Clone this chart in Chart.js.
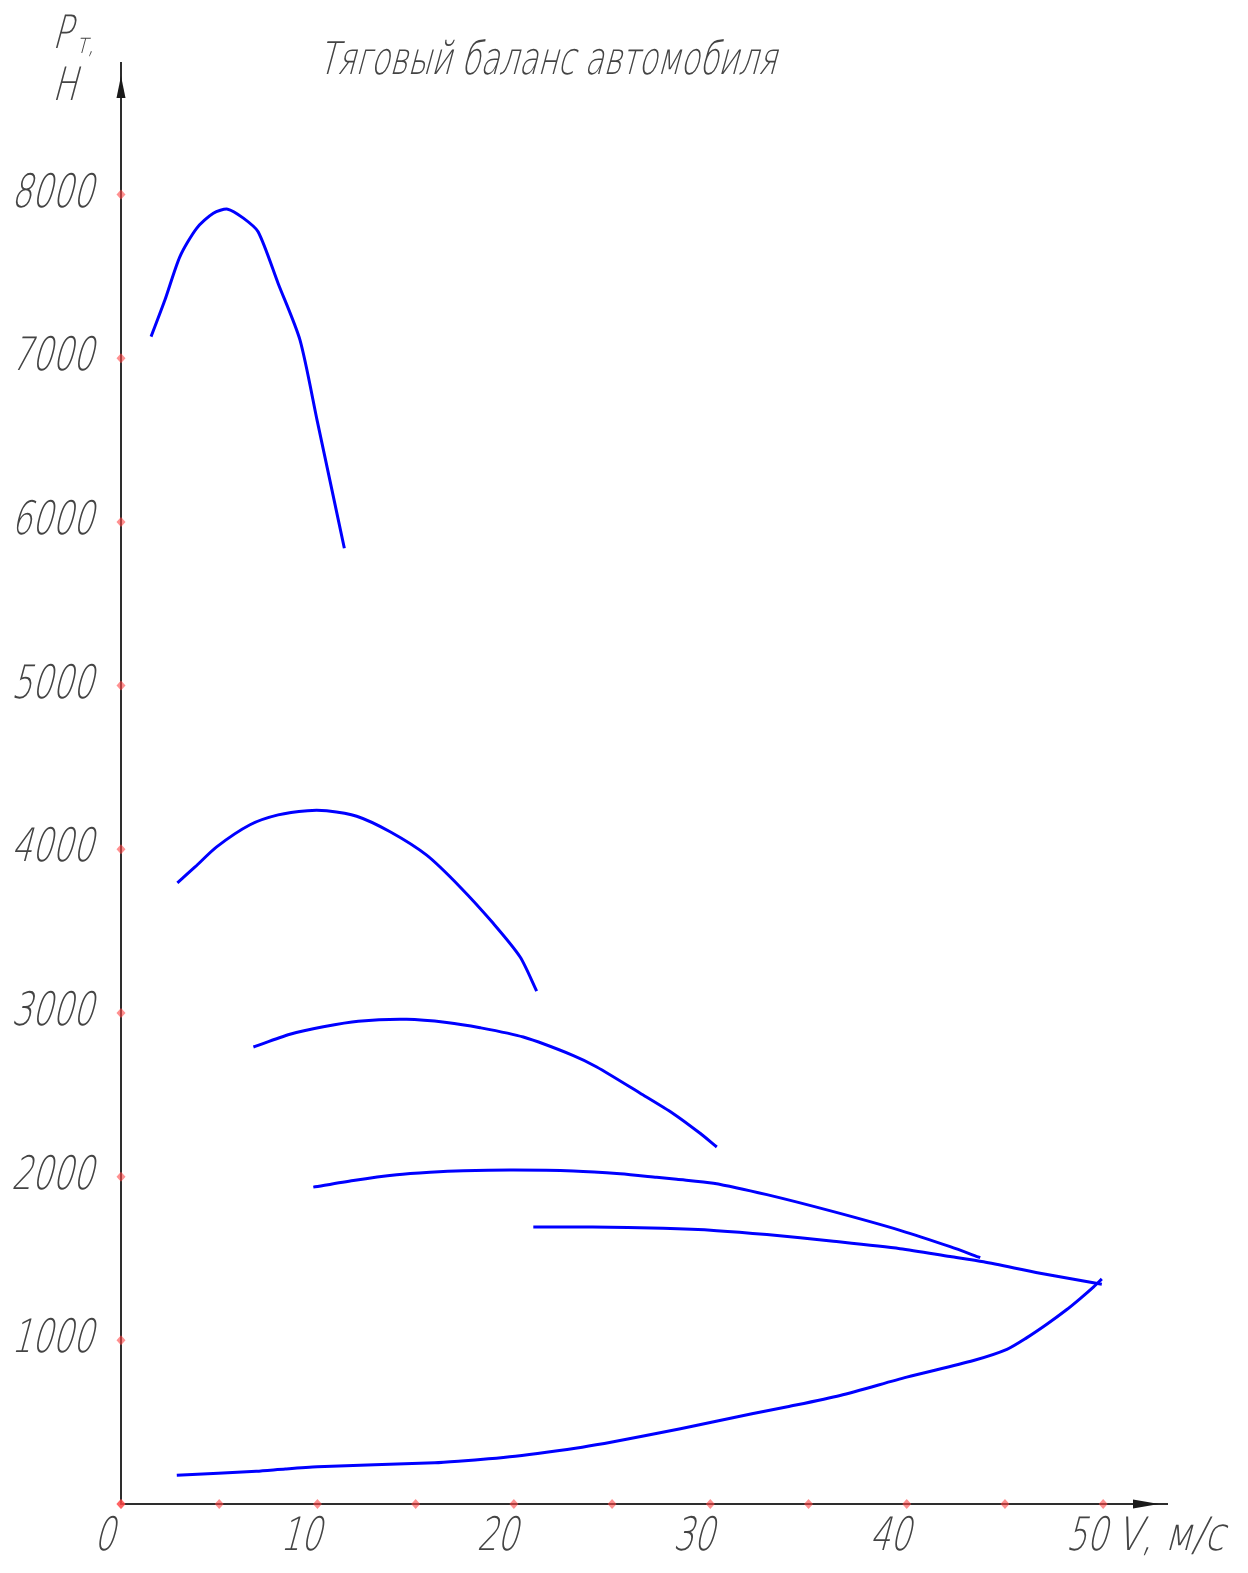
<!DOCTYPE html>
<html>
<head>
<meta charset="utf-8">
<script src="https://cdn.jsdelivr.net/npm/chart.js@4/dist/chart.umd.min.js"></script>
<style>
  html, body { margin: 0; padding: 0; background: #ffffff; }
  #wrap { position: relative; width: 1248px; height: 1573px; }
</style>
</head>
<body>
<div id="wrap"><canvas id="c" width="1248" height="1573"></canvas></div>
<script>
// Texts
const chartTitle = 'Тяговый баланс автомобиля';
const xAxisTitle = 'V, м/с';
const yAxisSymbol = 'P';
const yAxisSubscript = 'т,';
const yAxisUnit = 'Н';

// Tick values and labels
const xTickMarks = [0, 5, 10, 15, 20, 25, 30, 35, 40, 45, 50];
const xTickLabels = ['0', '10', '20', '30', '40', '50'];
const xTickLabelValues = [0, 10, 20, 30, 40, 50];
const yTickMarks = [0, 1000, 2000, 3000, 4000, 5000, 6000, 7000, 8000];
const yTickLabels = ['1000', '2000', '3000', '4000', '5000', '6000', '7000', '8000'];
const yTickLabelValues = [1000, 2000, 3000, 4000, 5000, 6000, 7000, 8000];

// Tractive force, 1st gear (V, m/s ; P, N)
const gear1V = [1.53, 2.24, 3.0, 3.85, 4.70, 5.43, 6.23, 6.98, 8.0, 9.11, 10.0, 10.7, 11.37];
const gear1P = [7132, 7357, 7621, 7794, 7886, 7911, 7856, 7773, 7457, 7112, 6611, 6217, 5839];

// 2nd gear
const gear2V = [2.87, 3.77, 4.87, 6.57, 8.0, 9.5, 10.47, 12.0, 13.70, 15.56, 17.26, 18.96, 20.32, 21.16];
const gear2P = [3795, 3892, 4015, 4150, 4210, 4236, 4235, 4202, 4107, 3964, 3770, 3546, 3342, 3134];

// 3rd gear
const gear3V = [6.74, 8.6, 10.30, 12.08, 14.54, 16.58, 18.28, 20.48, 23.03, 24.22, 26.43, 28.12, 29.48, 30.33];
const gear3P = [2792, 2870, 2916, 2950, 2961, 2942, 2910, 2853, 2740, 2670, 2510, 2385, 2265, 2181];

// 4th gear
const gear4V = [9.79, 11.83, 14.04, 15.73, 17.43, 20.0, 23.03, 25.41, 27.27, 28.29, 30.16, 32.88, 36.27, 39.66, 42.21, 43.74];
const gear4P = [1936, 1977, 2012, 2027, 2036, 2040, 2034, 2017, 1996, 1984, 1960, 1890, 1786, 1672, 1572, 1505];

// 5th gear
const gear5V = [20.99, 24.0, 27.6, 30.33, 32.88, 36.27, 39.66, 42.21, 43.91, 46.79, 49.93];
const gear5P = [1692, 1692, 1684, 1670, 1646, 1605, 1560, 1512, 1480, 1410, 1342];

// Road and air resistance
const resistV = [2.84, 4.95, 6.89, 8.37, 10.0, 12.91, 15.98, 17.34, 18.71, 20.07, 21.66, 23.48, 25.07, 26.66, 28.48, 30.3, 32.12, 33.93, 36.61, 40.0, 43.4, 45.1, 46.1, 47.13, 48.15, 48.83, 49.5, 49.93];
const resistP = [175, 188, 200, 214, 227, 240, 252, 263, 276, 292, 316, 347, 380, 417, 460, 506, 551, 594, 663, 775, 877, 945, 1015, 1098, 1188, 1255, 1325, 1375];

const xMax = 53.3;
const yMax = 8810;

const series = [
  [gear1V, gear1P],
  [gear2V, gear2P],
  [gear3V, gear3P],
  [gear4V, gear4P],
  [gear5V, gear5P],
  [resistV, resistP]
];

const toPoints = (vs, ps) => vs.map((v, i) => ({ x: v, y: ps[i] }));

const TEXT_COLOR = '#444444';
const FONT_FAMILY = '"DejaVu Sans", "Liberation Sans", sans-serif';
const SKEW = 0.27;

// Draws slanted, horizontally condensed text, the way drafting fonts look.
// (x, y) is the baseline anchor; align: 'left' | 'center' | 'right'.
function draftText(ctx, text, x, y, size, sx, align, targetWidth) {
  ctx.save();
  ctx.font = `200 ${size}px ${FONT_FAMILY}`;
  const raw = ctx.measureText(text).width;
  if (targetWidth) sx = targetWidth / raw;
  const w = raw * sx;
  let left = x;
  if (align === 'center') left = x - w / 2;
  else if (align === 'right') left = x - w;
  ctx.setTransform(sx, 0, -SKEW, 1, left, y);
  ctx.fillStyle = TEXT_COLOR;
  ctx.textBaseline = 'alphabetic';
  ctx.textAlign = 'left';
  ctx.fillText(text, 0, 0);
  ctx.restore();
}

const draftingFrame = {
  id: 'draftingFrame',
  beforeDatasetsDraw(chart) {
    const { ctx, chartArea, scales } = chart;
    const xs = scales.x, ys = scales.y;
    const x0 = xs.getPixelForValue(0);
    const y0 = ys.getPixelForValue(0);
    const top = chartArea.top;
    const right = chartArea.right;

    ctx.save();
    ctx.strokeStyle = '#2e2e2e';
    ctx.fillStyle = '#1a1a1a';
    ctx.lineWidth = 2;
    ctx.lineCap = 'butt';

    // vertical axis with arrow
    ctx.beginPath();
    ctx.moveTo(x0, y0 + 1);
    ctx.lineTo(x0, top);
    ctx.stroke();
    ctx.beginPath();
    ctx.moveTo(x0, top + 14);
    ctx.lineTo(x0 + 4.5, top + 36);
    ctx.lineTo(x0 - 4.5, top + 36);
    ctx.closePath();
    ctx.fill();

    // horizontal axis with arrow
    ctx.beginPath();
    ctx.moveTo(x0 - 1, y0);
    ctx.lineTo(right, y0);
    ctx.stroke();
    ctx.beginPath();
    ctx.moveTo(right - 9, y0);
    ctx.lineTo(right - 35, y0 - 4.5);
    ctx.lineTo(right - 35, y0 + 4.5);
    ctx.closePath();
    ctx.fill();

    // tick markers
    ctx.fillStyle = 'rgba(255, 70, 70, 0.6)';
    const marker = (px, py) => {
      ctx.beginPath();
      ctx.moveTo(px, py - 5);
      ctx.lineTo(px + 4.5, py);
      ctx.lineTo(px, py + 5);
      ctx.lineTo(px - 4.5, py);
      ctx.closePath();
      ctx.fill();
    };
    xTickMarks.forEach(v => marker(xs.getPixelForValue(v), y0));
    yTickMarks.forEach(v => marker(x0, ys.getPixelForValue(v)));
    ctx.restore();
  },
  afterDraw(chart) {
    const { ctx, scales } = chart;
    const xs = scales.x, ys = scales.y;
    const x0 = xs.getPixelForValue(0);
    const y0 = ys.getPixelForValue(0);

    // y tick labels
    yTickLabels.forEach((t, i) => {
      const py = ys.getPixelForValue(yTickLabelValues[i]);
      draftText(ctx, t, x0 - 28, py + 12, 46, 0.70, 'right');
    });
    // x tick labels
    xTickLabels.forEach((t, i) => {
      const px = xs.getPixelForValue(xTickLabelValues[i]);
      draftText(ctx, t, px - 17, y0 + 46, 46, 0.70, 'center');
    });

    // axis titles
    draftText(ctx, yAxisSymbol, 52, 48, 46, 0.70, 'left');
    draftText(ctx, yAxisSubscript, 76, 53, 28, 0.75, 'left');
    draftText(ctx, yAxisUnit, 52, 100, 46, 0.70, 'left');
    draftText(ctx, xAxisTitle, 1116, y0 + 46, 46, 0.70, 'left', 108);

    // chart title
    draftText(ctx, chartTitle, 318, 74, 45, 0.70, 'left', 458);
  }
};

new Chart(document.getElementById('c'), {
  type: 'scatter',
  data: {
    datasets: series.map(([vs, ps]) => ({
      data: toPoints(vs, ps),
      showLine: true,
      borderColor: '#0000ff',
      borderWidth: 3,
      pointRadius: 0,
      pointHoverRadius: 0,
      tension: 0.25,
      fill: false
    }))
  },
  options: {
    responsive: false,
    animation: false,
    devicePixelRatio: 1,
    layout: { padding: { left: 121, right: 80, top: 62, bottom: 69 } },
    scales: {
      x: { type: 'linear', min: 0, max: xMax, display: false },
      y: { type: 'linear', min: 0, max: yMax, display: false }
    },
    plugins: {
      legend: { display: false },
      tooltip: { enabled: false }
    }
  },
  plugins: [draftingFrame]
});
</script>
</body>
</html>
